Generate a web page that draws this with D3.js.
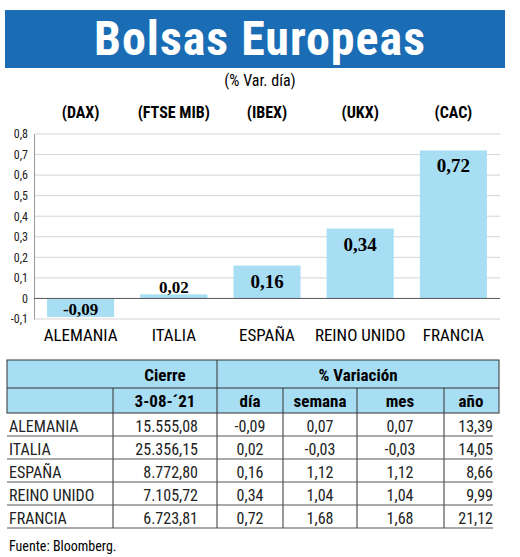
<!DOCTYPE html>
<html><head><meta charset="utf-8">
<script src="https://cdn.jsdelivr.net/npm/d3@7"></script>
<style>body{margin:0;background:#fff}</style></head>
<body><svg id="c" width="520" height="557"></svg>
<script>
const countries = ["ALEMANIA","ITALIA","ESPAÑA","REINO UNIDO","FRANCIA"];
const indices = ["(DAX)","(FTSE MIB)","(IBEX)","(UKX)","(CAC)"];
const dayChange = [-0.09,0.02,0.16,0.34,0.72];
const closes = ["15.555,08","25.356,15","8.772,80","7.105,72","6.723,81"];
const weekChange = ["0,07","-0,03","1,12","1,04","1,68"];
const monthChange = ["0,07","-0,03","1,12","1,04","1,68"];
const yearChange = ["13,39","14,05","8,66","9,99","21,12"];
const yTicks = [-0.1,0,0.1,0.2,0.3,0.4,0.5,0.6,0.7,0.8];

const svg = d3.select("#c");
const narrow = "'Liberation Sans Narrow','Roboto Condensed','Open Sans',sans-serif";
const fmt = v => d3.format(".2f")(v).replace(".",",").replace("\u2212","-");

svg.append("rect").attr("x",5).attr("y",10).attr("width",500).attr("height",58).attr("fill","#1a6db5");
svg.append("text").attr("x",260).attr("y",55).attr("text-anchor","middle").attr("fill","#fff")
  .attr("font-family",narrow).attr("font-weight","bold").attr("font-size",48).attr("letter-spacing",1).text("Bolsas Europeas");
svg.append("text").attr("x",260).attr("y",86).attr("text-anchor","middle").attr("font-family",narrow)
  .attr("font-size",16).text("(% Var. día)");

const x = d3.scaleBand().domain(countries).range([34,500]).paddingInner(0.28).paddingOuter(0.14);
const y = d3.scaleLinear().domain([-0.1,0.8]).range([319,134]);

svg.append("g").selectAll("line").data(yTicks.filter(t=>t!==0)).join("line")
  .attr("x1",34).attr("x2",500).attr("y1",d=>y(d)).attr("y2",d=>y(d)).attr("stroke","#d4d4d4").attr("stroke-width",1);
const ax = svg.append("g").attr("transform","translate(34,0)")
  .call(d3.axisLeft(y).tickValues(yTicks).tickSize(0).tickPadding(6).tickFormat(d=>d===0?"0":d3.format(".1f")(d).replace(".",",").replace("\u2212","-")));
ax.select(".domain").attr("stroke","#999");
ax.selectAll("text").attr("font-family",narrow).attr("font-size",12).attr("fill","#222");

svg.append("g").selectAll("rect").data(dayChange).join("rect")
  .attr("x",(d,i)=>x(countries[i])).attr("width",x.bandwidth())
  .attr("y",d=>y(Math.max(0,d))).attr("height",d=>Math.abs(y(d)-y(0)))
  .attr("fill","#a8def4");
svg.append("line").attr("x1",34).attr("x2",500).attr("y1",y(0)).attr("y2",y(0)).attr("stroke","#555");

svg.append("g").selectAll("text").data(dayChange).join("text")
  .attr("x",(d,i)=>x(countries[i])+x.bandwidth()/2)
  .attr("y",d=>d<0?y(0)+17:Math.min(y(d)+22,y(0)-5))
  .attr("text-anchor","middle").attr("font-family","'Liberation Serif','DejaVu Serif',serif")
  .attr("font-weight","bold").attr("font-size",d=>d<0.1?17:19).text(fmt);
svg.append("g").selectAll("text").data(countries).join("text")
  .attr("x",d=>x(d)+x.bandwidth()/2).attr("y",341).attr("text-anchor","middle")
  .attr("font-family",narrow).attr("font-size",17).text(d=>d);
svg.append("g").selectAll("text").data(indices).join("text")
  .attr("x",(d,i)=>x(countries[i])+x.bandwidth()/2).attr("y",118).attr("text-anchor","middle")
  .attr("font-family",narrow).attr("font-weight","bold").attr("font-size",16).text(d=>d);

// table
const T = svg.append("g");
T.append("rect").attr("x",7).attr("y",360).attr("width",492).attr("height",53).attr("fill","#a8def4");
T.append("rect").attr("x",7).attr("y",360).attr("width",492).attr("height",53).attr("fill","none").attr("stroke","#333");
T.append("line").attr("x1",7).attr("x2",499).attr("y1",388).attr("y2",388).attr("stroke","#333");
[113,217].forEach(c=>T.append("line").attr("x1",c).attr("x2",c).attr("y1",c===217?360:388).attr("y2",528).attr("stroke","#333"));
[283,357,444].forEach(c=>T.append("line").attr("x1",c).attr("x2",c).attr("y1",388).attr("y2",528).attr("stroke","#333"));
const hb={"font-family":narrow,"font-weight":"bold","font-size":17,"text-anchor":"middle"};
function tx(x0,y0,s,o){const t=T.append("text").attr("x",x0).attr("y",y0).text(s);Object.entries(o).forEach(([k,v])=>t.attr(k,v));}
tx(165,381,"Cierre",hb); tx(358,381,"% Variación",hb);
tx(165,407,"3-08-´21",hb); tx(250,407,"día",hb); tx(320,407,"semana",hb); tx(400,407,"mes",hb); tx(471,407,"año",hb);
const rowH=23;
countries.forEach((c,i)=>{
  const yb=413+rowH*(i+1);
  T.append("line").attr("x1",7).attr("x2",493).attr("y1",yb).attr("y2",yb).attr("stroke","#555");
  const o={"font-family":narrow,"font-size":16,"fill":"#222"};
  tx(9,yb-4,c,Object.assign({"text-anchor":"start"},o));
  tx(198,yb-4,closes[i],Object.assign({"text-anchor":"end"},o));
  tx(250,yb-4,fmt(dayChange[i]),Object.assign({"text-anchor":"middle"},o));
  tx(320,yb-4,weekChange[i],Object.assign({"text-anchor":"middle"},o));
  tx(400,yb-4,monthChange[i],Object.assign({"text-anchor":"middle"},o));
  tx(493,yb-4,yearChange[i],Object.assign({"text-anchor":"end"},o));
});
tx(9,551,"Fuente: Bloomberg.",{"font-family":narrow,"font-size":14,"text-anchor":"start"});
</script></body></html>
